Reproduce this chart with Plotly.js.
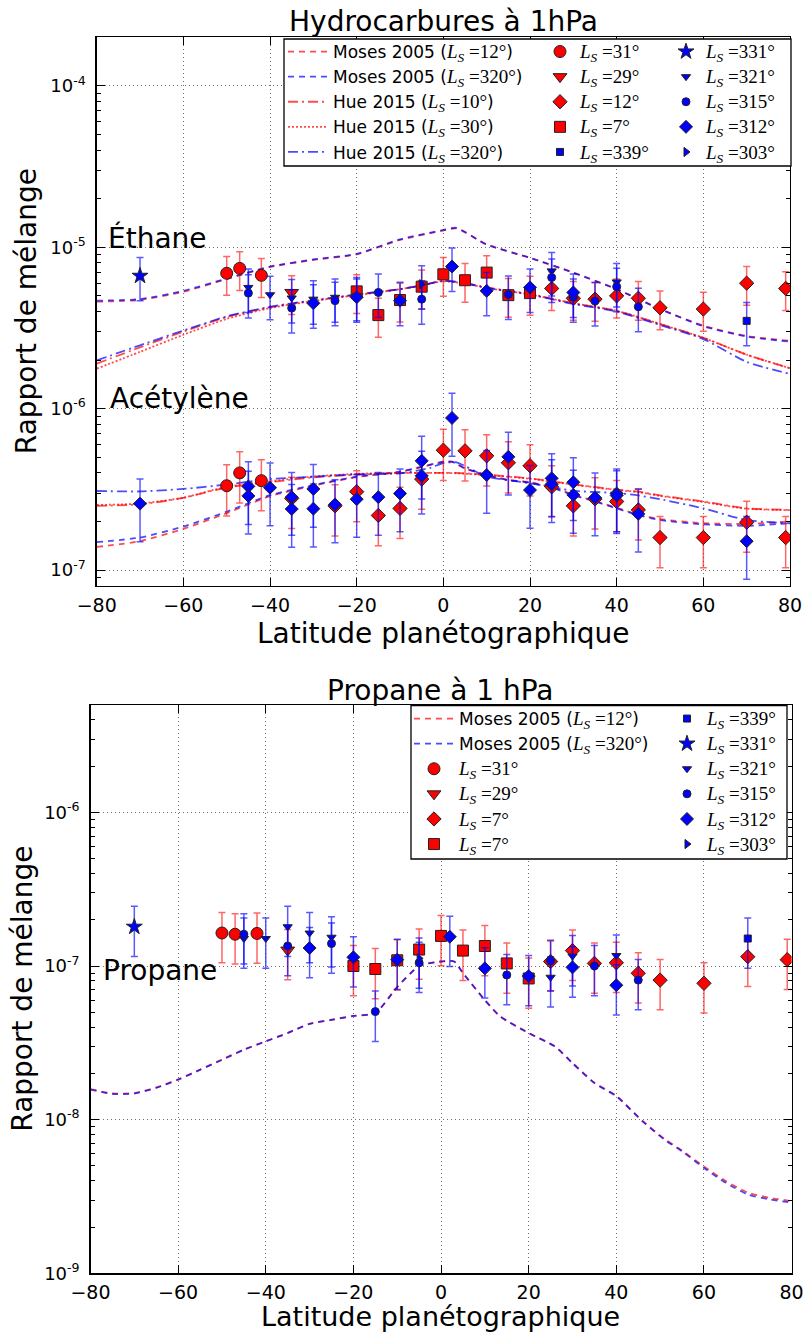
<!DOCTYPE html>
<html><head><meta charset="utf-8">
<script src="https://cdn.plot.ly/plotly-3.0.1.min.js"></script>
<style>html,body{margin:0;padding:0;background:#fff}</style>
</head><body><div id="chart" style="width:805px;height:1336px"></div>
<script>
// ---------------- DATA ----------------
// Ethane (top panel) observations
const ETH_LS31_LAT = [-50,-47,-42];
const ETH_LS31 = [6.9e-6,7.4e-6,6.7e-6];
const ETH_LS29_LAT = [-35];
const ETH_LS29 = [5.25e-6];
const ETH_LS12_LAT = [25,30,35,40,45,50,60,70,79];
const ETH_LS12 = [5.56e-6,4.83e-6,4.77e-6,5.0e-6,4.83e-6,4.22e-6,4.14e-6,5.99e-6,5.56e-6];
const ETH_LS7_LAT = [-20,-15,-10,-5,0,5,10,15,20];
const ETH_LS7 = [5.33e-6,3.8e-6,4.71e-6,5.7e-6,6.8e-6,6.25e-6,6.97e-6,5.05e-6,5.2e-6];
const ETH_LS339_LAT = [70];
const ETH_LS339 = [3.5e-6];
const ETH_LS331_LAT = [-70];
const ETH_LS331 = [6.65e-6];
const ETH_LS321_LAT = [-45,-40,-35,-30,-25,-20,25,40];
const ETH_LS321 = [5.64e-6,5.08e-6,4.85e-6,4.77e-6,4.9e-6,5.0e-6,7.14e-6,6.1e-6];
const ETH_LS315_LAT = [-45,-35,-25,-15,-5,15,25,30,35,40,45];
const ETH_LS315 = [5.2e-6,4.2e-6,4.67e-6,5.25e-6,4.77e-6,5.1e-6,6.5e-6,4.9e-6,4.65e-6,5.7e-6,4.28e-6];
const ETH_LS312_LAT = [-30,-20,-10,2,10,20,30];
const ETH_LS312 = [4.5e-6,4.9e-6,4.67e-6,7.6e-6,5.37e-6,5.64e-6,5.25e-6];
const ETH_LS303_LAT = [-5];
const ETH_LS303 = [5.9e-6];

// Acetylene (top panel) observations
const ACE_LS31_LAT = [-50,-47,-42];
const ACE_LS31 = [3.33e-7,4.0e-7,3.58e-7];
const ACE_LS12_LAT = [-35,-25,-20,-15,-10,-5,0,5,10,15,20,25,30,35,40,45,50,60,70,79];
const ACE_LS12 = [2.78e-7,2.5e-7,3.06e-7,2.18e-7,2.41e-7,3.66e-7,5.53e-7,5.48e-7,5.1e-7,4.62e-7,4.43e-7,3.28e-7,2.5e-7,2.76e-7,2.66e-7,2.36e-7,1.59e-7,1.59e-7,1.98e-7,1.59e-7];
const ACE_LS312_LAT = [-70,-45,-45,-40,-35,-35,-30,-30,-25,-20,-15,-10,-5,-5,2,10,15,20,25,25,30,30,35,40,40,45,70];
const ACE_LS312 = [2.58e-7,3.3e-7,2.88e-7,3.24e-7,2.83e-7,2.39e-7,3.18e-7,2.4e-7,2.55e-7,2.75e-7,2.83e-7,2.98e-7,4.75e-7,3.84e-7,8.76e-7,3.88e-7,5.03e-7,3.13e-7,3.7e-7,3.4e-7,3.5e-7,2.92e-7,2.81e-7,2.98e-7,2.9e-7,2.23e-7,1.51e-7];

// Propane (bottom panel) observations
const PRO_LS31_LAT = [-50,-47,-42];
const PRO_LS31 = [1.64e-7,1.61e-7,1.63e-7];
const PRO_LS29_LAT = [-35];
const PRO_LS29 = [1.27e-7];
const PRO_LS7D_LAT = [25,30,35,40,45,50,60,70,79];
const PRO_LS7D = [1.07e-7,1.26e-7,1.04e-7,1.05e-7,8.97e-8,8.1e-8,7.72e-8,1.15e-7,1.1e-7];
const PRO_LS7S_LAT = [-20,-15,-10,-5,0,5,10,15,20];
const PRO_LS7S = [1.0e-7,9.56e-8,1.09e-7,1.28e-7,1.57e-7,1.26e-7,1.35e-7,1.04e-7,8.3e-8];
const PRO_LS339_LAT = [70];
const PRO_LS339 = [1.51e-7];
const PRO_LS331_LAT = [-70];
const PRO_LS331 = [1.8e-7];
const PRO_LS321_LAT = [-45,-40,-35,-30,-25,25,30,40];
const PRO_LS321 = [1.51e-7,1.51e-7,1.8e-7,1.64e-7,1.54e-7,8.45e-8,1.16e-7,1.17e-7];
const PRO_LS315_LAT = [-45,-35,-25,-15,-5,15,25,35,45];
const PRO_LS315 = [1.61e-7,1.35e-7,1.4e-7,5.05e-8,1.05e-7,8.74e-8,1.08e-7,1.0e-7,8.1e-8];
const PRO_LS312_LAT = [-30,-20,-10,2,10,20,30,40];
const PRO_LS312 = [1.31e-7,1.14e-7,1.1e-7,1.55e-7,9.66e-8,8.6e-8,9.8e-8,7.5e-8];
const PRO_LS303_LAT = [-5];
const PRO_LS303 = [1.12e-7];

// Relative error bars (percent)
const ERR_ETH_RED = 27, ERR_ETH_BLUE = 30;
const ERR_ACE_RED = 35, ERR_ACE_BLUE = 42;
const ERR_PRO = 36;

// Model curves
const ETH_MOSES_LAT = [-80,-70,-60,-50,-40,-30,-20,-10,0,3,10,20,30,40,50,60,70,80];
const ETH_MOSES12 = [4.6e-6,4.72e-6,5.3e-6,6.35e-6,7.55e-6,8.35e-6,9.05e-6,1.11e-5,1.27e-5,1.31e-5,1.04e-5,8.6e-6,6.95e-6,5.5e-6,4.15e-6,3.27e-6,2.82e-6,2.63e-6];
const ETH_MOSES320 = [4.67e-6,4.77e-6,5.37e-6,6.4e-6,7.6e-6,8.4e-6,9.1e-6,1.12e-5,1.28e-5,1.32e-5,1.04e-5,8.6e-6,6.97e-6,5.5e-6,4.14e-6,3.24e-6,2.8e-6,2.6e-6];
const ETH_HUE_LAT = [-80,-70,-60,-50,-40,-30,-20,-10,-5,0,5,10,20,30,40,50,60,70,80];
const ETH_HUE10 = [1.9e-6,2.4e-6,3.0e-6,3.7e-6,4.25e-6,4.67e-6,5.08e-6,5.5e-6,5.8e-6,6.2e-6,6.0e-6,5.64e-6,5.13e-6,4.5e-6,4.04e-6,3.35e-6,2.75e-6,2.16e-6,1.78e-6];
const ETH_HUE30 = [1.77e-6,2.25e-6,2.87e-6,3.6e-6,4.2e-6,4.65e-6,5.05e-6,5.5e-6,5.8e-6,6.15e-6,5.95e-6,5.6e-6,5.1e-6,4.5e-6,4.04e-6,3.35e-6,2.75e-6,2.16e-6,1.78e-6];
const ETH_HUE320 = [1.99e-6,2.47e-6,3.05e-6,3.73e-6,4.28e-6,4.7e-6,5.1e-6,5.5e-6,5.8e-6,6.2e-6,6.0e-6,5.6e-6,5.1e-6,4.45e-6,4.0e-6,3.3e-6,2.7e-6,1.95e-6,1.64e-6];

const ACE_MOSES_LAT = [-80,-70,-60,-50,-40,-30,-20,-10,-5,0,2,5,10,15,20,25,30,35,40,45,50,60,70,80];
const ACE_MOSES12 = [1.39e-7,1.51e-7,1.8e-7,2.25e-7,2.87e-7,3.33e-7,3.77e-7,4.05e-7,4.35e-7,4.67e-7,4.68e-7,4.26e-7,3.88e-7,3.62e-7,3.5e-7,3.26e-7,2.93e-7,2.68e-7,2.43e-7,2.21e-7,2.07e-7,1.95e-7,1.93e-7,2.0e-7];
const ACE_MOSES320 = [1.49e-7,1.59e-7,1.86e-7,2.3e-7,2.91e-7,3.36e-7,3.79e-7,4.07e-7,4.37e-7,4.69e-7,4.7e-7,4.26e-7,3.88e-7,3.61e-7,3.48e-7,3.24e-7,2.91e-7,2.66e-7,2.41e-7,2.19e-7,2.04e-7,1.92e-7,1.88e-7,1.95e-7];
const ACE_HUE_LAT = [-80,-70,-60,-50,-40,-30,-20,-10,-3,0,3,10,20,30,40,45,50,60,70,80];
const ACE_HUE10 = [2.5e-7,2.55e-7,2.8e-7,3.25e-7,3.5e-7,3.75e-7,3.9e-7,4.0e-7,4.0e-7,4.0e-7,4.0e-7,3.9e-7,3.7e-7,3.4e-7,3.15e-7,3.06e-7,2.9e-7,2.66e-7,2.41e-7,2.36e-7];
const ACE_HUE30 = [2.53e-7,2.58e-7,2.81e-7,3.28e-7,3.55e-7,3.8e-7,3.95e-7,4.0e-7,4.0e-7,4.0e-7,3.98e-7,3.88e-7,3.68e-7,3.38e-7,3.13e-7,3.04e-7,2.88e-7,2.64e-7,2.4e-7,2.35e-7];
const ACE_HUE320 = [3.09e-7,3.07e-7,3.18e-7,3.39e-7,3.66e-7,3.79e-7,3.92e-7,3.97e-7,4.3e-7,4.6e-7,4.65e-7,3.8e-7,3.45e-7,3.1e-7,3.0e-7,2.9e-7,2.75e-7,2.41e-7,2.04e-7,1.95e-7];

const PRO_MOSES_LAT = [-80,-75,-70,-65,-60,-55,-50,-45,-40,-35,-30,-25,-20,-15,-10,-5,0,3,5,10,13.5,20,26,30,35,40,46,51,55,60,65,70,75,80];
const PRO_MOSES320 = [1.57e-8,1.47e-8,1.48e-8,1.61e-8,1.82e-8,2.11e-8,2.45e-8,2.85e-8,3.23e-8,3.66e-8,4.2e-8,4.46e-8,4.73e-8,4.93e-8,7.3e-8,1.0e-7,1.07e-7,1.07e-7,9.0e-8,6.0e-8,4.69e-8,3.66e-8,2.99e-8,2.33e-8,1.73e-8,1.42e-8,9.75e-9,7.4e-9,6.22e-9,4.85e-9,3.88e-9,3.26e-9,3.03e-9,2.88e-9];
const PRO_MOSES12 = [1.58e-8,1.48e-8,1.49e-8,1.62e-8,1.83e-8,2.12e-8,2.46e-8,2.86e-8,3.24e-8,3.67e-8,4.21e-8,4.47e-8,4.74e-8,4.94e-8,7.3e-8,1.0e-7,1.07e-7,1.07e-7,9.0e-8,6.0e-8,4.7e-8,3.67e-8,3.0e-8,2.34e-8,1.74e-8,1.43e-8,9.8e-9,7.5e-9,6.3e-9,4.95e-9,3.98e-9,3.35e-9,3.1e-9,2.95e-9];

// Tick labels
const X_TICKS = [-80,-60,-40,-20,0,20,40,60,80];
const Y_TICKS_TOP = [1e-7,1e-6,1e-5,1e-4];
const Y_TICKTEXT_TOP = ['10<sup>-7</sup>','10<sup>-6</sup>','10<sup>-5</sup>','10<sup>-4</sup>'];
const Y_TICKS_BOT = [1e-9,1e-8,1e-7,1e-6];
const Y_TICKTEXT_BOT = ['10<sup>-9</sup>','10<sup>-8</sup>','10<sup>-7</sup>','10<sup>-6</sup>'];

// ---------------- STYLE / BUILD ----------------
const W = 805, H = 1336;
const px = v => v / W;
const py = v => 1 - v / H;
const RED = '#ff0000', BLUE = '#0000ff';
const REDL = 'rgba(255,0,0,0.7)', BLUEL = 'rgba(0,0,255,0.7)';
const REDE = 'rgba(255,0,0,0.6)', BLUEE = 'rgba(0,0,255,0.65)';
const SANS = 'DejaVu Sans';
const math = v => '<span style="font-family:Liberation Serif;font-size:19px"><i>L</i><sub><i>S</i></sub> =' + v + '°</span>';

const DASH = '6px,5px', DASHDOT = '10px,4px,2px,4px', DOT = '2px,2px';

const traces = [];
function line(x, y, color, dash, name, xa, ya, legend, show, rank) {
  traces.push({type:'scatter', mode:'lines', x, y, xaxis:xa, yaxis:ya,
    line:{color, width:1.8, dash, shape:'spline', smoothing:0.6},
    name, legend, showlegend:show, legendrank:rank, hoverinfo:'skip'});
}
function pts(x, y, sty, err, xa, ya, legend, show, rank, label) {
  const red = sty.color === RED;
  traces.push({type:'scatter', mode:'markers', x, y, xaxis:xa, yaxis:ya,
    marker:{symbol:sty.symbol, size:sty.size, color:sty.color, line:{color:'#222', width:1}},
    error_y:{type:'percent', value:err, color: red ? REDE : BLUEE, thickness:1.5, width:3.5},
    name: label, legend, showlegend:show, legendrank:rank, hoverinfo:'skip'});
}
const S = {
  c31:{symbol:'circle', color:RED, size:12},
  t29:{symbol:'triangle-down', color:RED, size:12},
  d12:{symbol:'diamond', color:RED, size:11},
  s7:{symbol:'square', color:RED, size:11},
  s339:{symbol:'square', color:BLUE, size:7},
  st331:{symbol:'star', color:BLUE, size:12},
  t321:{symbol:'triangle-down', color:BLUE, size:8},
  c315:{symbol:'circle', color:BLUE, size:8},
  d312:{symbol:'diamond', color:BLUE, size:10},
  r303:{symbol:'triangle-right', color:BLUE, size:8}
};

// Top panel lines
line(ETH_MOSES_LAT, ETH_MOSES12, REDL, DASH, 'Moses 2005 (' + math('12') + ')', 'x','y','legend', true, 1);
line(ETH_MOSES_LAT, ETH_MOSES320, BLUEL, DASH, 'Moses 2005 (' + math('320') + ')', 'x','y','legend', true, 2);
line(ETH_HUE_LAT, ETH_HUE10, REDL, DASHDOT, 'Hue 2015 (' + math('10') + ')', 'x','y','legend', true, 3);
line(ETH_HUE_LAT, ETH_HUE30, REDL, DOT, 'Hue 2015 (' + math('30') + ')', 'x','y','legend', true, 4);
line(ETH_HUE_LAT, ETH_HUE320, BLUEL, DASHDOT, 'Hue 2015 (' + math('320') + ')', 'x','y','legend', true, 5);
line(ACE_MOSES_LAT, ACE_MOSES12, REDL, DASH, 'm12', 'x','y','legend', false, 10);
line(ACE_MOSES_LAT, ACE_MOSES320, BLUEL, DASH, 'm320', 'x','y','legend', false, 10);
line(ACE_HUE_LAT, ACE_HUE10, REDL, DASHDOT, 'h10', 'x','y','legend', false, 10);
line(ACE_HUE_LAT, ACE_HUE30, REDL, DOT, 'h30', 'x','y','legend', false, 10);
line(ACE_HUE_LAT, ACE_HUE320, BLUEL, DASHDOT, 'h320', 'x','y','legend', false, 10);

// Top panel points
pts(ETH_LS31_LAT, ETH_LS31, S.c31, ERR_ETH_RED, 'x','y','legend2', true, 1, math('31'));
pts(ETH_LS29_LAT, ETH_LS29, S.t29, ERR_ETH_RED, 'x','y','legend2', true, 2, math('29'));
pts(ETH_LS12_LAT, ETH_LS12, S.d12, ERR_ETH_RED, 'x','y','legend2', true, 3, math('12'));
pts(ETH_LS7_LAT, ETH_LS7, S.s7, ERR_ETH_RED, 'x','y','legend2', true, 4, math('7'));
pts(ACE_LS31_LAT, ACE_LS31, S.c31, ERR_ACE_RED, 'x','y','legend2', false, 9, 'a31');
pts(ACE_LS12_LAT, ACE_LS12, S.d12, ERR_ACE_RED, 'x','y','legend2', false, 9, 'a12');
pts(ETH_LS339_LAT, ETH_LS339, S.s339, ERR_ETH_BLUE, 'x','y','legend2', true, 5, math('339'));
pts(ETH_LS331_LAT, ETH_LS331, S.st331, ERR_ETH_BLUE, 'x','y','legend3', true, 1, math('331'));
pts(ETH_LS321_LAT, ETH_LS321, S.t321, ERR_ETH_BLUE, 'x','y','legend3', true, 2, math('321'));
pts(ETH_LS315_LAT, ETH_LS315, S.c315, ERR_ETH_BLUE, 'x','y','legend3', true, 3, math('315'));
pts(ETH_LS312_LAT, ETH_LS312, S.d312, ERR_ETH_BLUE, 'x','y','legend3', true, 4, math('312'));
pts(ETH_LS303_LAT, ETH_LS303, S.r303, ERR_ETH_BLUE, 'x','y','legend3', true, 5, math('303'));
pts(ACE_LS312_LAT, ACE_LS312, S.d312, ERR_ACE_BLUE, 'x','y','legend3', false, 9, 'a312');

// Bottom panel
line(PRO_MOSES_LAT, PRO_MOSES12, REDL, DASH, 'Moses 2005 (' + math('12') + ')', 'x2','y2','legend4', true, 1);
line(PRO_MOSES_LAT, PRO_MOSES320, BLUEL, DASH, 'Moses 2005 (' + math('320') + ')', 'x2','y2','legend4', true, 2);
pts(PRO_LS31_LAT, PRO_LS31, S.c31, ERR_PRO, 'x2','y2','legend4', true, 3, math('31'));
pts(PRO_LS29_LAT, PRO_LS29, S.t29, ERR_PRO, 'x2','y2','legend4', true, 4, math('29'));
pts(PRO_LS7D_LAT, PRO_LS7D, S.d12, ERR_PRO, 'x2','y2','legend4', true, 5, math('7'));
pts(PRO_LS7S_LAT, PRO_LS7S, S.s7, ERR_PRO, 'x2','y2','legend4', true, 6, math('7'));
pts(PRO_LS339_LAT, PRO_LS339, S.s339, ERR_PRO, 'x2','y2','legend5', true, 1, math('339'));
pts(PRO_LS331_LAT, PRO_LS331, S.st331, ERR_PRO, 'x2','y2','legend5', true, 2, math('331'));
pts(PRO_LS321_LAT, PRO_LS321, S.t321, ERR_PRO, 'x2','y2','legend5', true, 3, math('321'));
pts(PRO_LS315_LAT, PRO_LS315, S.c315, ERR_PRO, 'x2','y2','legend5', true, 4, math('315'));
pts(PRO_LS312_LAT, PRO_LS312, S.d312, ERR_PRO, 'x2','y2','legend5', true, 5, math('312'));
pts(PRO_LS303_LAT, PRO_LS303, S.r303, ERR_PRO, 'x2','y2','legend5', true, 6, math('303'));

const xBase = {range:[-80,80], tickmode:'array', tickvals:X_TICKS, ticks:'inside', ticklen:8, tickwidth:1,
  tickcolor:'#000', mirror:'allticks', showline:true, linecolor:'#000', linewidth:1.3,
  showgrid:true, gridcolor:'#6f6f6f', griddash:'1px,3px', gridwidth:1, zeroline:false,
  tickfont:{family:SANS, size:19, color:'#000'}, ticklabelstandoff:2, automargin:false, fixedrange:true};
const yBase = {type:'log', tickmode:'array', ticks:'inside', ticklen:8, tickwidth:1, tickcolor:'#000',
  mirror:'allticks', showline:true, linecolor:'#000', linewidth:1.3,
  showgrid:true, gridcolor:'#6f6f6f', griddash:'1px,3px', gridwidth:1, zeroline:false,
  minor:{dtick:'D1', ticks:'inside', ticklen:4, tickcolor:'#000', showgrid:false},
  tickfont:{family:SANS, size:18, color:'#000'}, ticklabelstandoff:6, automargin:false, fixedrange:true};

const legBase = {xanchor:'left', yanchor:'top', bgcolor:'rgba(0,0,0,0)', borderwidth:0,
  font:{family:SANS, size:17, color:'#000'}, tracegroupgap:0, traceorder:'normal'};

const ann = (x, y, text, size, extra) => Object.assign({xref:'paper', yref:'paper', x:px(x), y:py(y), text,
  showarrow:false, xanchor:'center', yanchor:'middle', font:{family:SANS, size, color:'#000'}}, extra||{});

const layout = {
  width:W, height:H, margin:{l:0, r:0, t:0, b:0}, paper_bgcolor:'#fff', plot_bgcolor:'#fff',
  font:{family:SANS, color:'#000'}, showlegend:true,
  xaxis:Object.assign({}, xBase, {domain:[px(96.7), px(790)], anchor:'y'}),
  yaxis:Object.assign({}, yBase, {domain:[py(585.7), py(37.3)], anchor:'x',
    range:[Math.log10(8e-8), Math.log10(2e-4)], tickvals:Y_TICKS_TOP, ticktext:Y_TICKTEXT_TOP}),
  xaxis2:Object.assign({}, xBase, {domain:[px(90.5), px(791.6)], anchor:'y2'}),
  yaxis2:Object.assign({}, yBase, {domain:[py(1273.3), py(705)], anchor:'x2',
    range:[-9, Math.log10(5e-6)], tickvals:Y_TICKS_BOT, ticktext:Y_TICKTEXT_BOT}),
  legend:Object.assign({}, legBase, {x:px(283), y:py(34), itemwidth:40}),
  legend2:Object.assign({}, legBase, {x:px(540), y:py(34)}),
  legend3:Object.assign({}, legBase, {x:px(666), y:py(34)}),
  legend4:Object.assign({}, legBase, {x:px(409), y:py(701), itemwidth:40}),
  legend5:Object.assign({}, legBase, {x:px(667), y:py(701)}),
  shapes:[
    {type:'rect', xref:'paper', yref:'paper', x0:px(284), x1:px(791), y0:py(166), y1:py(39),
     line:{color:'#000', width:1.3}, fillcolor:'#fff', layer:'above'},
    {type:'rect', xref:'paper', yref:'paper', x0:px(411), x1:px(787), y0:py(859), y1:py(705.5),
     line:{color:'#000', width:1.3}, fillcolor:'#fff', layer:'above'}
  ],
  annotations:[
    ann(443.4, 21.7, 'Hydrocarbures à 1hPa', 28),
    ann(441, 690, 'Propane à 1 hPa', 28),
    ann(443.4, 633, 'Latitude planétographique', 28),
    ann(441, 1316.5, 'Latitude planétographique', 27),
    ann(26.7, 311.5, 'Rapport de mélange', 28, {textangle:-90}),
    ann(21.7, 989, 'Rapport de mélange', 28, {textangle:-90}),
    ann(106, 238, 'Éthane', 28, {xanchor:'left'}),
    ann(108, 399, 'Acétylène', 28, {xanchor:'left'}),
    ann(101, 970, 'Propane', 28, {xanchor:'left'})
  ]
};

Plotly.newPlot('chart', traces, layout, {staticPlot:true, displayModeBar:false});
</script></body></html>
